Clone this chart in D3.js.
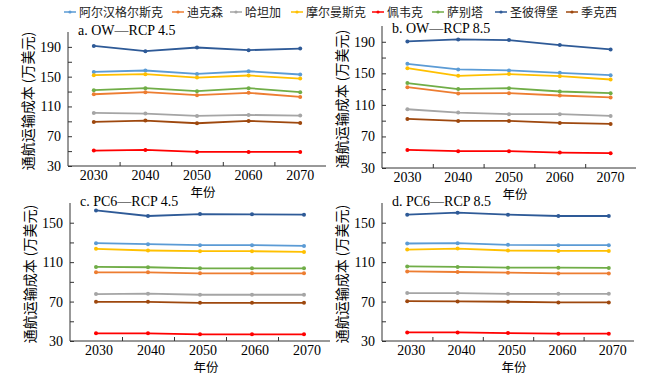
<!DOCTYPE html>
<html>
<head>
<meta charset="utf-8">
<script src="https://cdn.jsdelivr.net/npm/d3@7"></script>
<style>
  body { margin: 0; background: #fff; }
  text { font-family: "Liberation Serif", "Times New Roman", serif; }
  .cjk { font-family: "Noto Sans CJK SC", sans-serif; }
</style>
</head>
<body>
<div id="chart"></div>
<script>
// categories
const years = [2030, 2040, 2050, 2060, 2070];
const ports = ["阿尔汉格尔斯克", "迪克森", "哈坦加", "摩尔曼斯克", "佩韦克", "萨别塔", "圣彼得堡", "季克西"];
const portColors = ["#5b9bd5", "#ed7d31", "#a5a5a5", "#ffc000", "#ff0000", "#70ad47", "#2e5a97", "#9e480e"];

// values per panel, one row per port (same order as ports)
const owRcp45 = [
  [156.4, 158.3, 153.7, 157.3, 152.9],
  [126.4, 129.2, 125.1, 128.3, 122.8],
  [101.3, 100.4, 97.2, 98.6, 97.7],
  [152.0, 153.3, 148.8, 151.6, 147.5],
  [50.7, 51.6, 48.9, 48.9, 48.9],
  [131.8, 134.6, 130.5, 134.6, 129.2],
  [191.3, 184.2, 189.2, 185.6, 187.8],
  [89.2, 91.0, 87.4, 90.6, 87.9]
];
const owRcp85 = [
  [162.1, 155.0, 153.7, 150.6, 147.7],
  [132.5, 124.5, 124.9, 121.9, 119.4],
  [104.5, 100.3, 98.2, 98.2, 96.0],
  [156.6, 146.8, 149.0, 146.4, 142.2],
  [52.9, 51.3, 51.3, 49.6, 48.8],
  [137.6, 130.0, 131.2, 127.0, 124.9],
  [190.5, 193.0, 192.2, 185.8, 180.3],
  [92.2, 89.7, 89.7, 87.1, 85.9]
];
const pc6Rcp45 = [
  [129.2, 128.2, 127.2, 127.2, 126.5],
  [99.7, 99.7, 98.7, 98.7, 98.7],
  [77.6, 78.0, 76.9, 76.9, 76.9],
  [123.5, 121.8, 121.1, 121.1, 120.4],
  [37.8, 37.8, 36.8, 36.8, 36.8],
  [105.1, 104.8, 103.7, 103.7, 103.7],
  [162.5, 156.8, 158.8, 158.5, 158.2],
  [69.7, 69.7, 68.7, 68.7, 68.7]
];
const pc6Rcp85 = [
  [128.9, 129.2, 127.6, 127.2, 127.2],
  [100.6, 100.0, 99.3, 98.6, 98.6],
  [78.6, 78.6, 77.9, 77.9, 77.9],
  [122.8, 123.8, 121.8, 121.4, 121.4],
  [38.7, 38.7, 38.0, 37.4, 37.4],
  [105.7, 105.1, 104.4, 104.4, 104.1],
  [158.2, 160.2, 158.2, 156.8, 156.8],
  [70.4, 70.1, 69.8, 69.1, 69.1]
];

// tick labels
const yTicksOW = [30, 70, 110, 150, 190];
const yTicksPC6 = [30, 70, 110, 150];
const panelTitles = ["a. OW\u2014RCP 4.5", "b. OW\u2014RCP 8.5", "c. PC6\u2014RCP 4.5", "d. PC6\u2014RCP 8.5"];
const yTitle = "通航运输成本 (万美元)";
const xTitle = "年份";

const width = 650;
const height = 377;

const svg = d3.select("#chart")
  .append("svg")
  .attr("width", width)
  .attr("height", height);

// panel layout
const panels = [
  { data: owRcp45, title: panelTitles[0], yMax: 210, yTicks: yTicksOW, x0: 68, x1: 326, y0: 166, y1: 32, titleY: 35, labelDx: 0 },
  { data: owRcp85, title: panelTitles[1], yMax: 210, yTicks: yTicksOW, x0: 382, x1: 636, y0: 168, y1: 26, titleY: 33, labelDx: 0 },
  { data: pc6Rcp45, title: panelTitles[2], yMax: 170, yTicks: yTicksPC6, x0: 70, x1: 330, y0: 341, y1: 203, titleY: 206, labelDx: 3 },
  { data: pc6Rcp85, title: panelTitles[3], yMax: 170, yTicks: yTicksPC6, x0: 382, x1: 634, y0: 341, y1: 203, titleY: 206, labelDx: 4 }
];

panels.forEach(p => {
  const x = d3.scaleLinear().domain([2025, 2075]).range([p.x0, p.x1]);
  const y = d3.scaleLinear().domain([30, p.yMax]).range([p.y0, p.y1]);
  const g = svg.append("g");

  // y axis, ticks point inward
  const yAxis = g.append("g")
    .attr("transform", `translate(${p.x0},0)`)
    .call(d3.axisLeft(y).tickValues(d3.range(30, p.yMax, 20)).tickSize(-4).tickFormat(""));
  yAxis.select(".domain").attr("d", `M0,${p.y1}V${p.y0}`);
  g.append("g")
    .selectAll("text")
    .data(p.yTicks)
    .join("text")
    .attr("x", p.x0 - 7)
    .attr("y", d => y(d) + 5)
    .attr("text-anchor", "end")
    .attr("font-size", 14)
    .text(d => d);

  // x axis, ticks between years
  const xAxis = g.append("g")
    .attr("transform", `translate(0,${p.y0})`)
    .call(d3.axisBottom(x).tickValues([2035, 2045, 2055, 2065]).tickSize(-4).tickFormat(""));
  xAxis.select(".domain").attr("d", `M${p.x0},0H${p.x1}`);
  g.append("g")
    .selectAll("text")
    .data(years)
    .join("text")
    .attr("x", d => x(d) + p.labelDx)
    .attr("y", p.y0 + 13.5)
    .attr("text-anchor", "middle")
    .attr("font-size", 14)
    .text(d => d);

  svg.selectAll(".domain, .tick line").attr("stroke", "#333").attr("stroke-width", 1);

  // axis titles
  g.append("text")
    .attr("class", "cjk")
    .attr("x", (p.x0 + p.x1) / 2 + 6)
    .attr("y", p.y0 + 31)
    .attr("text-anchor", "middle")
    .attr("font-size", 12.5)
    .text(xTitle);
  g.append("text")
    .attr("class", "cjk")
    .attr("transform", `translate(${p.x0 - 35},${(p.y0 + p.y1) / 2 + 2}) rotate(-90)`)
    .attr("text-anchor", "middle")
    .attr("font-size", 14)
    .text(yTitle);

  g.append("text")
    .attr("x", p.x0 + 10)
    .attr("y", p.titleY)
    .attr("font-size", 14)
    .text(p.title);

  // lines
  const line = d3.line()
    .x((d, i) => x(years[i]))
    .y(d => y(d));
  p.data.forEach((vals, k) => {
    g.append("path")
      .attr("d", line(vals))
      .attr("fill", "none")
      .attr("stroke", portColors[k])
      .attr("stroke-width", 1.8);
    g.selectAll(null)
      .data(vals)
      .join("circle")
      .attr("cx", (d, i) => x(years[i]))
      .attr("cy", d => y(d))
      .attr("r", 2)
      .attr("fill", portColors[k]);
  });
});

// legend
const legendX = [70, 178, 236, 297, 378, 438, 501, 572];
const legend = svg.append("g");
ports.forEach((name, k) => {
  const item = legend.append("g").attr("transform", `translate(${legendX[k]},12)`);
  item.append("line")
    .attr("x1", -6).attr("x2", 6)
    .attr("stroke", portColors[k])
    .attr("stroke-width", 1.5);
  item.append("circle").attr("r", 1.6).attr("fill", portColors[k]);
  item.append("text")
    .attr("class", "cjk")
    .attr("x", 9)
    .attr("y", 4.5)
    .attr("font-size", 12)
    .attr("fill", "#222")
    .text(name);
});
</script>
</body>
</html>
